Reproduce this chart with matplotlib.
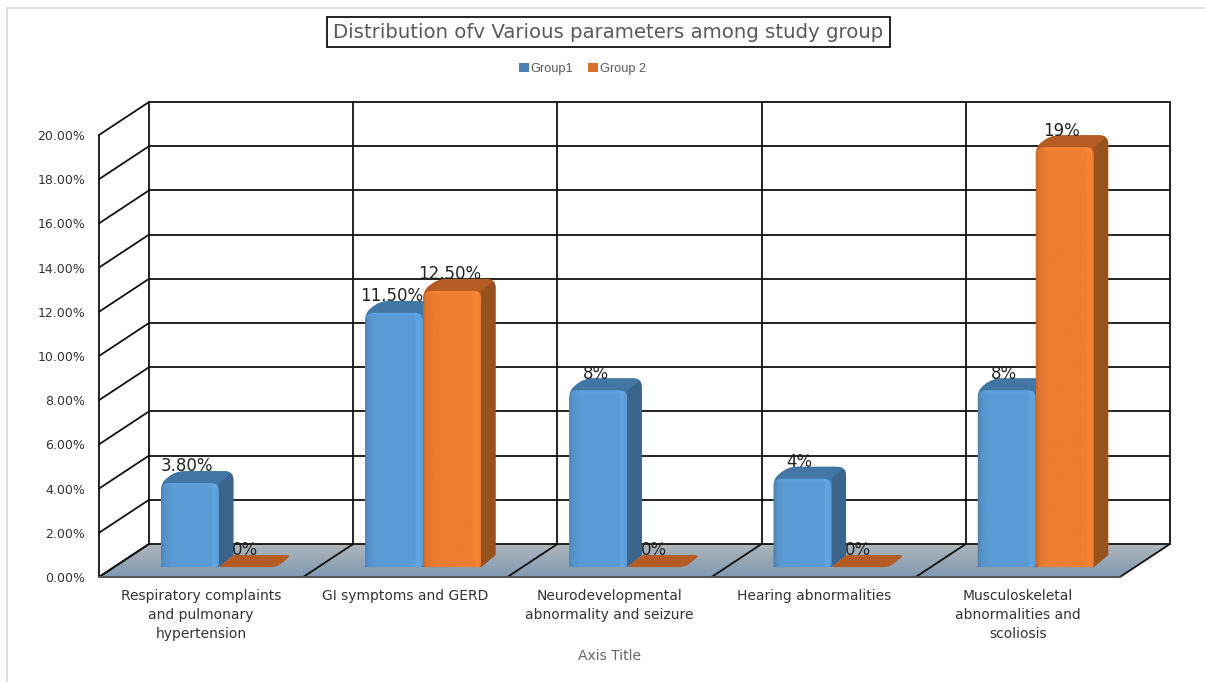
"""3D-look clustered bars: distribution of parameters among study groups"""
import numpy as np
import matplotlib
matplotlib.use('Agg')
import matplotlib.pyplot as plt
from matplotlib.lines import Line2D
from matplotlib.patches import Patch, PathPatch, Polygon
from matplotlib.path import Path

categories = ['Respiratory complaints\nand pulmonary\nhypertension',
              'GI symptoms and GERD',
              'Neurodevelopmental\nabnormality and seizure',
              'Hearing abnormalities',
              'Musculoskeletal\nabnormalities and\nscoliosis']
group1 = [3.8, 11.5, 8, 4, 8]
group2 = [0, 12.5, 0, 0, 19]
group1_labels = ['3.80%', '11.50%', '8%', '4%', '8%']
group2_labels = ['0%', '12.50%', '0%', '0%', '19%']
y_ticks = [0, 2, 4, 6, 8, 10, 12, 14, 16, 18, 20]

W, H = 1205, 682
X0, X1, Y0, Y1 = 99, 1120, 577, 135
PX_X = (X1 - X0) / 5      # pixels per category
PX_Y = (Y0 - Y1) / 20     # pixels per percent
DX = 50 / PX_X            # depth offset of the back wall, data units
DY = 33 / PX_Y

BAR_W = 0.284
BAR_START = 0.23
D_FRONT = 0.30
BAR_DX = 14.5 / PX_X      # how far a bar's side runs back
BAR_DY = 12 / PX_Y

BLUE = dict(front=(91, 155, 213), side=(58, 100, 140), top=(66, 118, 165))
ORANGE = dict(front=(237, 125, 49), side=(152, 82, 30), top=(180, 92, 35))


def depth(x, y, d):
    return x + d * DX, y + d * DY


def rounded_path(points, radii):
    """Closed path through points, corners rounded by radii (pixels)"""
    pts = np.array(points, dtype=float)
    scale = np.array([PX_X, PX_Y])
    verts, codes = [], []
    n = len(pts)
    for i in range(n):
        p, a, b = pts[i], pts[i - 1], pts[(i + 1) % n]
        r = radii[i]
        if r == 0:
            verts.append(p)
            codes.append(Path.LINETO)
            continue
        ua = (a - p) * scale
        ub = (b - p) * scale
        ua = ua / np.hypot(*ua) * r / scale
        ub = ub / np.hypot(*ub) * r / scale
        verts += [p + ua, p, p + ub]
        codes += [Path.LINETO, Path.CURVE3, Path.CURVE3]
    codes[0] = Path.MOVETO
    verts.append(verts[0])
    codes.append(Path.CLOSEPOLY)
    return Path(verts, codes)


def front_image(colors, height):
    """Small RGB array with the bevelled shading of a bar front"""
    base = np.array(colors['front'], dtype=float) / 255
    across = np.linspace(0, 1, 60)
    shade = np.interp(across, [0, 0.05, 0.18, 0.85, 0.93, 1],
                      [0.86, 0.94, 1, 1, 1.07, 1.0])
    rows = max(int(height * PX_Y), 2)
    img = np.ones((rows, 60, 3)) * base * shade[None, :, None]
    img[:6] *= np.linspace(1.05, 1.0, 6)[:, None, None]
    return np.clip(img, 0, 1)


def draw_bar(ax, x, value, colors):
    left, right = x, x + BAR_W
    fl = depth(left, value, D_FRONT)
    fr = depth(right, value, D_FRONT)
    bl = (fl[0] + BAR_DX, fl[1] + BAR_DY)
    br = (fr[0] + BAR_DX, fr[1] + BAR_DY)
    side = np.array(colors['side']) / 255
    top = np.array(colors['top']) / 255
    if value == 0:
        outline = rounded_path([fl, bl, br, fr], [2, 2, 5, 6])
        ax.add_patch(PathPatch(outline, fc=top, ec='none', clip_on=False, zorder=5))
        return
    fl0 = depth(left, 0, D_FRONT)
    fr0 = depth(right, 0, D_FRONT)
    br0 = (fr0[0] + BAR_DX, fr0[1] + BAR_DY)
    outline = rounded_path([fl, bl, br, br0, fr0, fl0], [7, 10, 9, 0, 0, 0])
    # silhouette underneath, so the rounded front never shows the wall through
    ax.add_patch(PathPatch(outline, fc=top, ec='none', zorder=4.9))
    mask = PathPatch(outline, transform=ax.transData)
    side_poly = Polygon([fr, br, br0, fr0], fc=side, ec='none', zorder=5)
    top_poly = Polygon([fl, bl, br, fr], fc=top, ec='none', zorder=5)
    ax.add_patch(side_poly)
    ax.add_patch(top_poly)
    side_poly.set_clip_path(mask)
    top_poly.set_clip_path(mask)
    face = rounded_path([fl, fr, fr0, fl0], [8, 8, 3, 3])
    img = ax.imshow(front_image(colors, value),
                    extent=(fl[0], fr[0], fl0[1], fl[1]),
                    aspect='auto', zorder=6, interpolation='bilinear')
    img.set_clip_path(PathPatch(face, transform=ax.transData))


fig = plt.figure(figsize=(W / 100, H / 100), dpi=100, facecolor='white')
ax = fig.add_axes([X0 / W, 1 - Y0 / H, (X1 - X0) / W, (Y0 - Y1) / H])
ax.patch.set_visible(False)
for s in ax.spines.values():
    s.set_visible(False)
n_cat = len(categories)

# floor, with a vertical gradient back to front
floor_grad = np.linspace(0, 1, 40)[:, None, None]
floor_img = (1 - floor_grad) * np.array([178, 183, 187]) / 255 + floor_grad * np.array([128, 153, 178]) / 255
fx0, fy0 = depth(0, 0, 0)
fx1, fy1 = depth(n_cat, 0, 1)
floor = ax.imshow(floor_img, extent=(fx0, fx1, fy0, fy1), aspect='auto', zorder=1)
floor_poly = Polygon([depth(0, 0, 0), depth(0, 0, 1), depth(n_cat, 0, 1), depth(n_cat, 0, 0)],
                     transform=ax.transData)
floor.set_clip_box(fig.bbox)
floor.set_clip_path(floor_poly)

# walls: gridlines run along the left wall and across the back
wall = dict(color='#111111', lw=1.3, zorder=2, clip_on=False, solid_capstyle='round')
for t in y_ticks:
    bx, by = depth(0, t, 1)
    ex, ey = depth(n_cat, t, 1)
    ax.plot([0, bx], [t, by], **wall)
    ax.plot([bx, ex], [by, ey], **wall)
for k in range(n_cat + 1):
    bx, by = depth(k, 0, 1)
    tx, ty = depth(k, y_ticks[-1], 1)
    ax.plot([bx, tx], [by, ty], **wall)
    ax.plot([k, bx], [0, by], **wall)
ax.plot([0, 0], [0, y_ticks[-1]], **wall)
ax.plot([0, n_cat], [0, 0], color='#555555', lw=1.4, zorder=3, clip_on=False)

for i in range(n_cat):
    x1 = i + BAR_START
    x2 = x1 + BAR_W
    draw_bar(ax, x1, group1[i], BLUE)
    draw_bar(ax, x2, group2[i], ORANGE)
    for x, val, lab in ((x1, group1[i], group1_labels[i]), (x2, group2[i], group2_labels[i])):
        px, py = depth(x + BAR_W / 2, val, D_FRONT)
        ax.annotate(lab, (px, py), xytext=(-2, 12), textcoords='offset points',
                    ha='center', va='center', fontsize=12, color='#222222', zorder=8,
                    annotation_clip=False)

ax.set_xlim(0, n_cat)
ax.set_ylim(0, y_ticks[-1])
ax.set_xticks([i + 0.5 for i in range(n_cat)])
ax.set_xticklabels(categories, fontsize=10, color='#333333', linespacing=1.44)
ax.set_yticks(y_ticks)
ax.set_yticklabels([f'{t:.2f}%' for t in y_ticks], fontsize=9, color='#333333')
ax.tick_params(axis='both', length=0)
ax.tick_params(axis='y', pad=10)
ax.tick_params(axis='x', pad=8.8)

fig.text(608.5 / W, 1 - 32 / H, 'Distribution ofv Various parameters among study group',
         ha='center', va='center', fontsize=14.2, color='#595959',
         bbox=dict(boxstyle='square,pad=0.3', fc='white', ec='#111111', lw=1.3))
fig.text(609 / W, 1 - 656 / H, 'Axis Title', ha='center', va='center', fontsize=10, color='#666666')

handles = [Patch(fc='#4a7fb5', ec='none', label='Group1'),
           Patch(fc='#d9702c', ec='none', label='Group 2')]
fig.legend(handles=handles, loc='center', bbox_to_anchor=(582.5 / W, 1 - 69 / H), ncol=2,
           frameon=False, prop={'family': 'Liberation Sans', 'size': 9.2}, labelcolor='#595959',
           handlelength=0.75, handleheight=0.7, handletextpad=0.15, columnspacing=1.2)

# thin pale frame of the pasted chart, top and left only
fig.add_artist(Line2D([6.5 / W, 1], [1 - 7.5 / H, 1 - 7.5 / H], color='#d9d9d9', lw=1.2))
fig.add_artist(Line2D([6.5 / W, 6.5 / W], [0, 1 - 7.5 / H], color='#d9d9d9', lw=1.2))

fig.savefig('out.png', dpi=100)
